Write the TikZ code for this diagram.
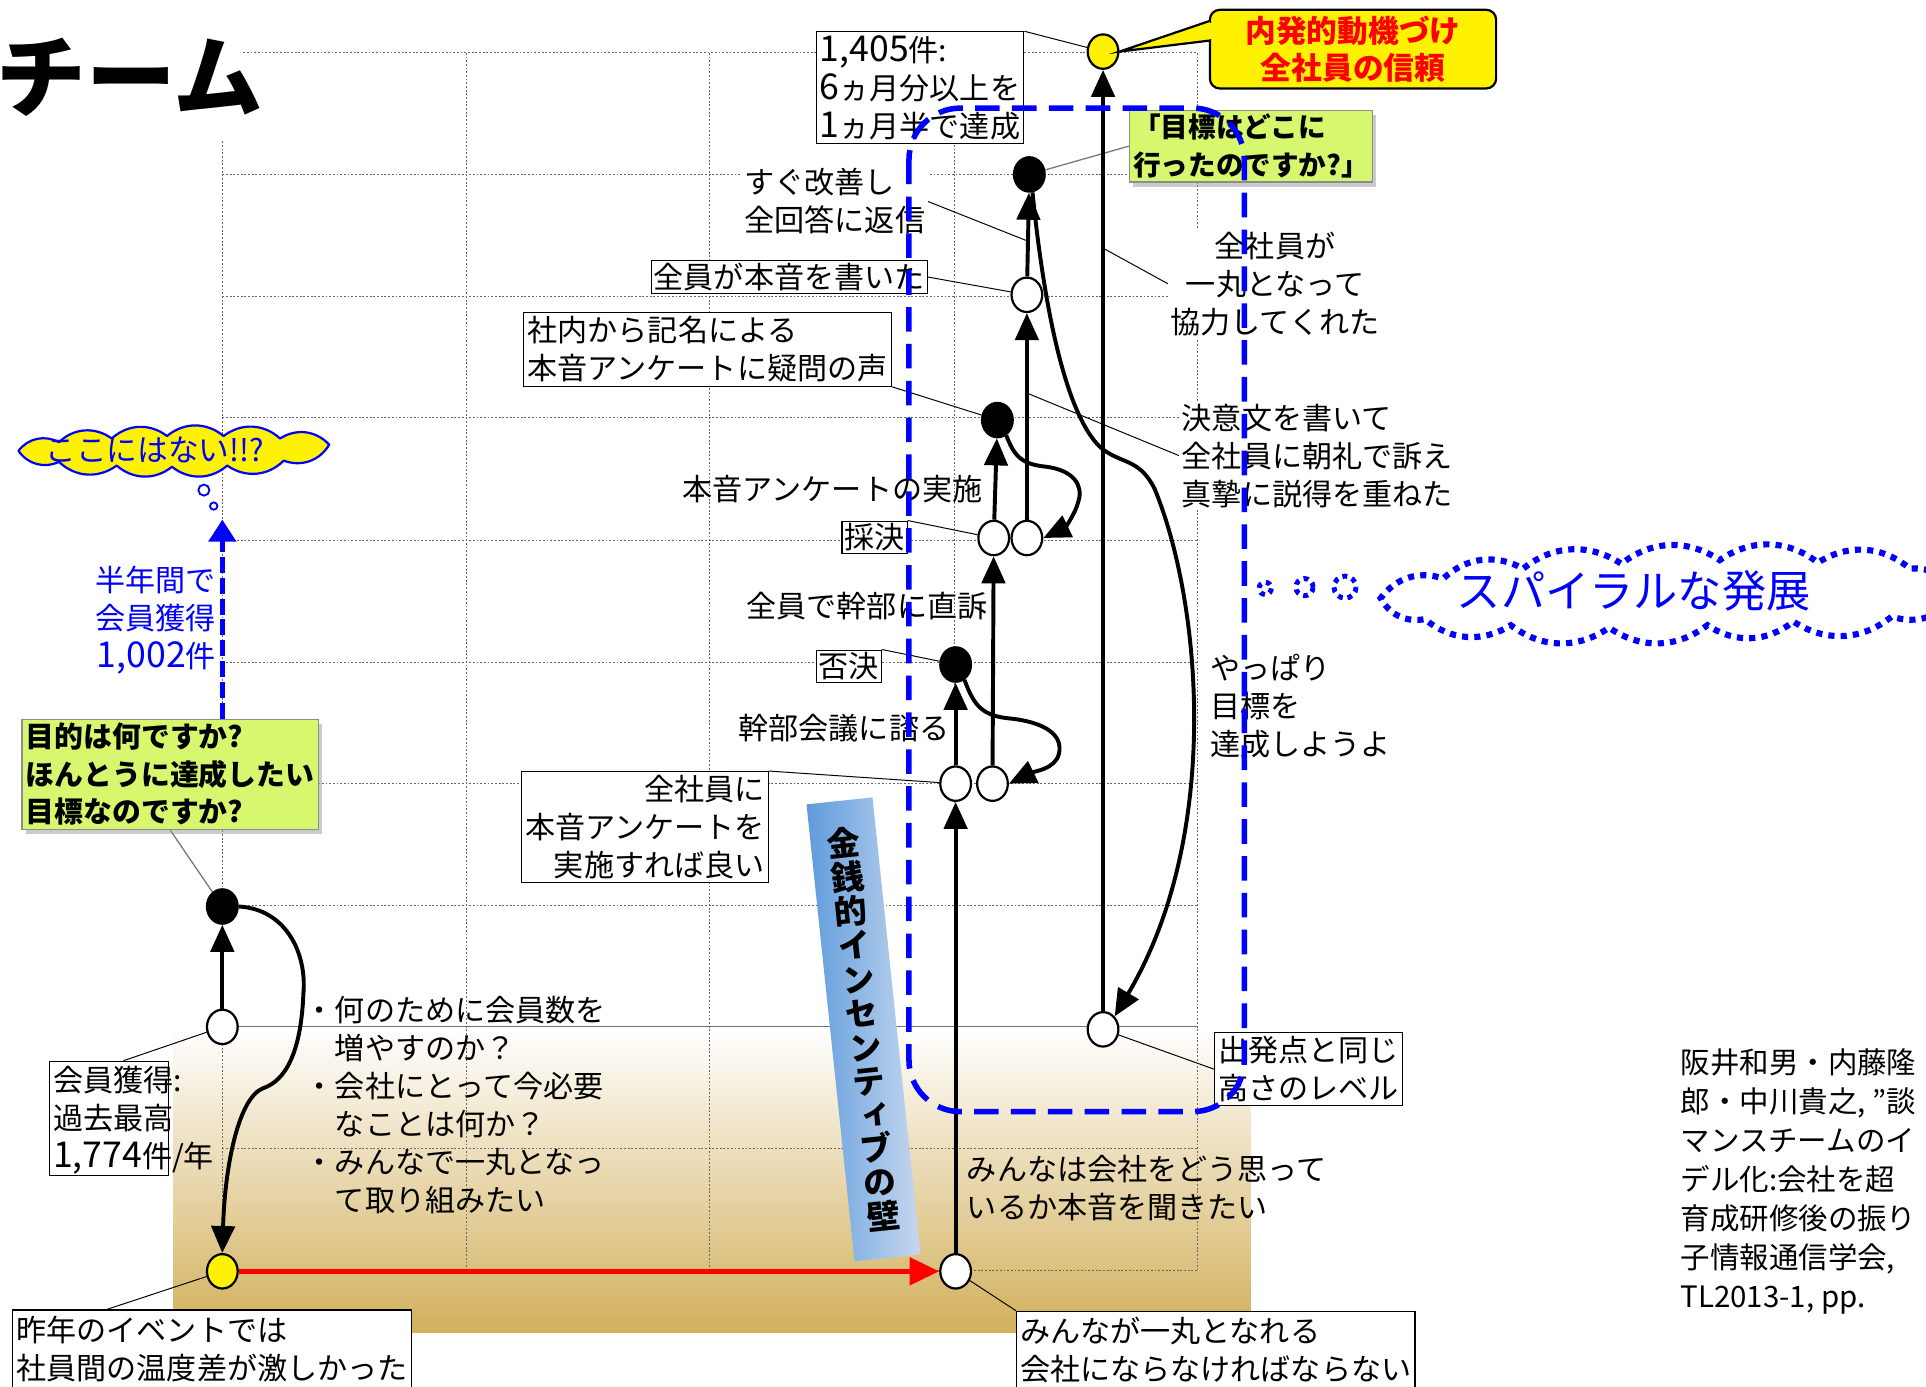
\documentclass[tikz,border=0pt]{standalone}
\usepackage{fontspec}
\setmainfont{Noto Sans CJK JP}
\newfontfamily\vjp[RawFeature=+vert]{Noto Sans CJK JP}
\usetikzlibrary{arrows.meta,shapes.geometric,shadows,calc}
\pgfdeclarelayer{bg}
\pgfdeclarelayer{mid}
\pgfdeclarelayer{top}
\pgfsetlayers{bg,mid,main,top}
\definecolor{bgtan}{RGB}{210,176,92}
\definecolor{bgcream}{RGB}{242,232,205}
\definecolor{notegreen}{RGB}{215,248,110}
\definecolor{bannerL}{RGB}{95,155,220}
\definecolor{bannerM}{RGB}{130,192,255}
\definecolor{bannerR}{RGB}{198,216,238}
\definecolor{purered}{RGB}{255,0,0}
\definecolor{pureblue}{RGB}{0,0,255}
\newcommand\labfont{\fontsize{24.5}{31}\selectfont}
\newcommand\bignum[1]{{\fontsize{29}{31}\selectfont #1}}
\begin{document}
\begin{tikzpicture}[x=1pt,y=-1pt,
  gridline/.style={draw=black!60, line width=0.8pt, dash pattern=on 1.5pt off 1.5pt},
  dotnode/.style={ellipse, draw=black, line width=1.8pt, minimum width=25pt, minimum height=28pt, inner sep=0pt},
  wnode/.style={dotnode, fill=white},
  bnode/.style={dotnode, fill=black},
  ynode/.style={dotnode, fill=yellow},
  flow/.style={draw=black, line width=3.2pt, -{Triangle[length=22pt,width=19pt]}},
  redflow/.style={draw=purered, line width=4pt, -{Triangle[length=24pt,width=22pt]}},
  lab/.style={font=\labfont, inner sep=2pt, align=left},
  boxlab/.style={lab, draw=black, line width=0.9pt, fill=white, inner sep=3pt},
  leader/.style={draw=black, line width=0.8pt},
  gleader/.style={draw=black!55, line width=1pt},
  note/.style={draw=black!45, line width=1pt, fill=notegreen, align=left, inner sep=3pt,
    drop shadow={shadow xshift=3pt, shadow yshift=-4pt, fill=black!40}},
  spdot/.style={draw=pureblue, line width=4pt, dash pattern=on 4pt off 4pt},
  puff/.style={bend right=40}]
\useasboundingbox (0,0) rectangle (1568,1129);

\begin{pgfonlayer}{bg}
\fill[white] (0,0) rectangle (1568,1129);
\shade[top color=white, middle color=bgcream, bottom color=bgtan] (141,836) rectangle (1018,1085);
\foreach \y in {142,241,340,440,539,638,737,935,1034} \draw[gridline] (181,\y) -- (975,\y);
\draw[gridline] (198,43) -- (975,43);
\draw[draw=black!55, line width=1pt] (181,836) -- (975,836);
\draw[gridline] (181,115) -- (181,1034);
\foreach \x in {380,578,777,975} \draw[gridline] (\x,43) -- (\x,1034);
\end{pgfonlayer}

% title
\node[anchor=west, font=\bfseries\fontsize{73}{73}\selectfont, inner sep=0pt] (title) at (-3,63) {チーム};

% banner
\begin{scope}[shift={(703,838)}, rotate=6]
\shade[left color=bannerL, middle color=bannerM, right color=bannerR] (-27,-187) rectangle (27,187);
\node[transform shape, align=center, inner sep=0pt, font=\vjp\bfseries\fontsize{27}{27.8}\selectfont] (tWall) at (0,0)
  {金\\銭\\的\\イ\\ン\\セ\\ン\\テ\\ィ\\ブ\\の\\壁};
\end{scope}

% labels
\node[boxlab] (b1405) at (749,71.5) {\bignum{1,405}件:\\\bignum{6}ヵ月分以上を\\\bignum{1}ヵ月半で達成};
\node[boxlab, inner sep=2pt] (bAll) at (642.5,225.5) {全員が本音を書いた};
\node[boxlab] (bShanai) at (576,284.5) {社内から記名による\\本音アンケートに疑問の声};
\node[boxlab, inner sep=2pt] (bSai) at (712,437.5) {採決};
\node[boxlab, inner sep=2pt] (bHi) at (691,542.5) {否決};
\node[boxlab, align=right] (bZen) at (525,673.5) {全社員に\\本音アンケートを\\実施すれば良い};
\node[draw=black, line width=0.9pt, fill=white, minimum width=97pt, minimum height=93pt, inner sep=0pt] (bKaiin) at (88.5,910.5) {};
\node[lab, anchor=west] (tKaiin) at (41,912) {会員獲得:\\過去最高\\\bignum{1,774}件/年};
\node[boxlab, anchor=north west, inner ysep=5pt] (bSaku) at (10,1066) {昨年のイベントでは\\社員間の温度差が激しかった};
\node[boxlab, anchor=north west, inner ysep=5pt] (bMinna) at (827,1067) {みんなが一丸となれる\\会社にならなければならない};
\node[boxlab] (bShup) at (1065.5,870.5) {出発点と同じ\\高さのレベル};

\node[lab, anchor=west, fill=white] (tSugu) at (604,164) {すぐ改善し\\全回答に返信};
\node[lab, align=center, fill=white] (tIchi) at (1038,231) {全社員が\\一丸となって\\協力してくれた};
\node[lab, anchor=west, fill=white] (tKetsui) at (960,371) {決意文を書いて\\全社員に朝礼で訴え\\真摯に説得を重ねた};
\node[lab, anchor=east] (tHonne) at (802,398) {本音アンケートの実施};
\node[lab, anchor=east] (tJikiso) at (806,493) {全員で幹部に直訴};
\node[lab, anchor=east] (tHakaru) at (775,593) {幹部会議に諮る};
\node[lab, anchor=west] (tYappari) at (983,575) {やっぱり\\目標を\\達成しようよ};
\node[lab, anchor=west] (tBullets) at (246,899.5) {・何のために会員数を\\　増やすのか？\\・会社にとって今必要\\　なことは何か？\\・みんなで一丸となっ\\　て取り組みたい};
\node[lab, anchor=west] (tOmotte) at (785,967) {みんなは会社をどう思って\\いるか本音を聞きたい};
\node[lab, anchor=east, align=right, text=pureblue] (tHantoshi) at (178,505) {半年間で\\会員獲得\\\bignum{1,002}件};

% notes
\node[note, font=\bfseries\fontsize{23.5}{30.5}\selectfont] (gWhy) at (138.5,630.5) {目的は何ですか?\\ほんとうに達成したい\\目標なのですか?};
\node[note, font=\bfseries\fontsize{22.5}{31}\selectfont] (gWhere) at (1018.5,119) {「目標はどこに\\行ったのですか?」};

% nodes
\node[ynode] (A) at (181,1035) {};
\node[wnode] (B) at (181,836) {};
\node[bnode] (C) at (181,738) {};
\node[wnode] (D) at (778,1035) {};
\node[wnode] (E) at (778,638) {};
\node[wnode] (F) at (808,638) {};
\node[bnode] (G) at (778,541) {};
\node[wnode] (H) at (809,438) {};
\node[wnode] (I) at (836,438) {};
\node[bnode] (J) at (812,342) {};
\node[wnode] (K) at (836,240) {};
\node[bnode] (L) at (838,142) {};
\node[ynode] (M) at (898,42) {};
\node[wnode] (N) at (898,838) {};

% callout
\node[draw=black, line width=1.8pt, fill=yellow, rounded corners=8pt, minimum width=233pt, minimum height=64pt,
  align=center, text=purered, font=\bfseries\fontsize{25}{30}\selectfont] (cY) at (1101.5,40) {内発的動機づけ\\全社員の信頼};
\draw[line width=1.8pt, fill=yellow] (985,17) -- (M.east) -- (985,33);
\fill[yellow] (983.6,18.6) rectangle (987,31.4);

% thought cloud
\draw[pureblue, line width=1.8pt, fill=yellow, line join=round]
  (268,362) to[puff] (228,357) to[puff] (182,355) to[puff] (136,355) to[puff] (91,357) to[puff] (48,360)
  to[puff] (15,367) to[puff] (48,376) to[puff] (95,379) to[puff] (140,380) to[puff] (185,379)
  to[puff] (231,375) to[puff] cycle;
\node[text=pureblue, font=\fontsize{25}{25}\selectfont, inner sep=0pt] (tKoko) at (126,366) {ここにはない!!?};
\draw[pureblue, line width=1.5pt, fill=white] (166,399) circle (4.5);
\draw[pureblue, line width=1.5pt, fill=white] (174,412) circle (3);

% spiral cloud
\draw[pureblue, line width=5pt, dash pattern=on 5pt off 5pt, bend right=36]
  (1592,485) to (1555,463) to (1480,458) to (1400,456) to (1320,459) to (1240,463) to (1175,471)
  to (1124,487) to (1160,504) to (1230,509) to (1310,511) to (1390,509) to (1460,506) to (1540,502) to (1592,485);
\node[text=pureblue, font=\fontsize{36}{36}\selectfont, inner sep=0pt] (tSpiral) at (1330,481) {スパイラルな発展};
\draw[spdot] (1030,479) circle (5);
\draw[spdot] (1062,478) circle (7);
\draw[spdot] (1095,478) circle (9);

% citation
\node[anchor=west, align=left, inner sep=0pt, font=\fontsize{24}{31.7}\selectfont] (cite) at (1368,962)
  {阪井和男・内藤隆\\郎・中川貴之, ”談\\マンスチームのイ\\デル化:会社を超\\育成研修後の振り\\子情報通信学会,\\TL2013-1, pp.};

% connectors
\draw[flow] (B) -- (C);
\draw[flow] (C.east) .. controls (232,740) and (250,775) .. (247,809) .. controls (245,858) and (232,880) .. (214,886) .. controls (194,894) and (183,950) .. (A.north);
\draw[redflow] (A) -- (D);
\draw[flow] (D) -- (E);
\draw[flow] (E) -- (G);
\draw[flow] (G.-60) .. controls (793,575) and (800,583) .. (823,585) .. controls (850,588) and (866,598) .. (862,614) .. controls (859,626) and (842,628) .. (F.east);
\draw[flow] (F) -- (H);
\draw[flow] (H) -- (J);
\draw[flow] (J.-60) .. controls (826,372) and (832,378) .. (852,380) .. controls (874,383) and (882,395) .. (878,408) .. controls (875,420) and (866,430) .. (I.east);
\draw[flow] (I) -- (K);
\draw[flow] (K) -- (L);
\draw[flow] (L.-80) .. controls (852,270) and (872,345) .. (898,366) .. controls (915,378) and (928,374) .. (940,398) .. controls (978,490) and (995,680) .. (N.north east);
\draw[flow] (N) -- (M);

\coordinate (bluetip) at (181,423);
\draw[pureblue, line width=4pt, dash pattern=on 13pt off 4pt, -{Triangle[length=18pt,width=22pt]}] (C |- gWhy.north) -- (bluetip);

% leaders
\begin{pgfonlayer}{mid}
\draw[leader] (b1405.north east) -- (M);
\draw[leader] (bAll.east) -- (K);
\draw[leader] (bShanai.south east) -- (J);
\draw[leader] (bSai.north east) -- (H);
\draw[leader] (bHi.north east) -- (G);
\draw[leader] (bZen.north east) -- (E);
\draw[leader] ($(bKaiin.north)+(12,0)$) -- (B);
\draw[leader] ($(bSaku.north west)+(77,0)$) -- (A);
\draw[leader] (D) -- (bMinna.north west);
\draw[leader] (N) -- (bShup.west);
\draw[gleader] (gWhere.west) -- (L);
\draw[gleader] (gWhy.south) -- (C);
\coordinate (kl) at (836,196);
\draw[leader] (tSugu.east) -- (kl);
\coordinate (nm) at (898,202);
\draw[leader] (tIchi.west) -- (nm);
\coordinate (ik) at (836,320);
\draw[leader] (tKetsui.west) -- (ik);
\end{pgfonlayer}

\begin{pgfonlayer}{top}
\draw[pureblue, line width=4.5pt, dash pattern=on 20pt off 10pt, rounded corners=42pt] (740,88) rectangle (1013,905);
\end{pgfonlayer}
\end{tikzpicture}
\end{document}
